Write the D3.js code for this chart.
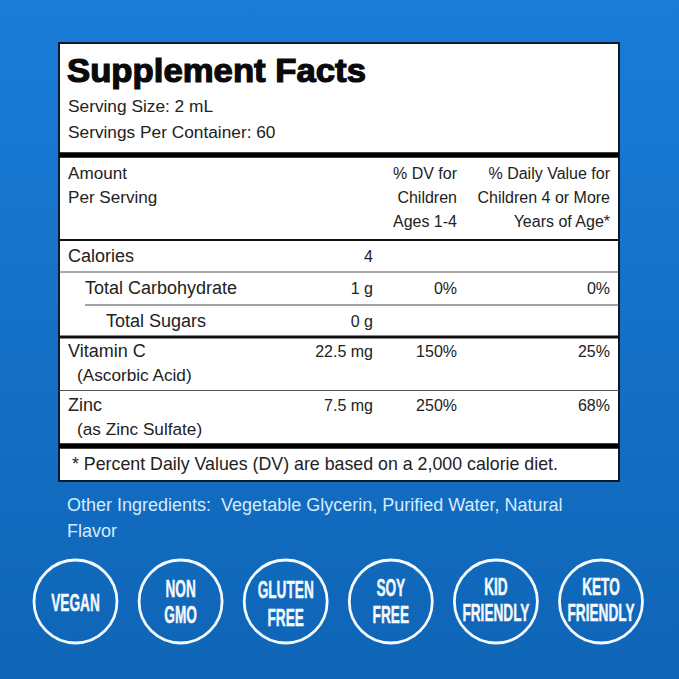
<!DOCTYPE html>
<html>
<head>
<meta charset="utf-8">
<script src="https://cdn.jsdelivr.net/npm/d3@7"></script>
<style>
  html, body { margin: 0; padding: 0; background: #1270c6; }
  svg { display: block; }
  text { font-family: "Liberation Sans", sans-serif; white-space: pre; }
</style>
</head>
<body>
<div id="chart"></div>
<script>
const servingLines = ['Serving Size: 2 mL', 'Servings Per Container: 60'];
const amountHeader = ['Amount', 'Per Serving'];
const childHeader = ['% DV for', 'Children', 'Ages 1-4'];
const dailyHeader = ['% Daily Value for', 'Children 4 or More', 'Years of Age*'];

const nutrients = ['Calories', 'Total Carbohydrate', 'Total Sugars', 'Vitamin C', 'Zinc'];
const subLabels = ['', '', '', '(Ascorbic Acid)', '(as Zinc Sulfate)'];
const amounts = ['4', '1 g', '0 g', '22.5 mg', '7.5 mg'];
const childDV = ['', '0%', '', '150%', '250%'];
const dailyDV = ['', '0%', '', '25%', '68%'];
const indents = [0, 1, 2, 0, 0];

const footnote = '* Percent Daily Values (DV) are based on a 2,000 calorie diet.';
const ingredients = ['Other Ingredients:  Vegetable Glycerin, Purified Water, Natural', 'Flavor'];
const badges = [['VEGAN'], ['NON', 'GMO'], ['GLUTEN', 'FREE'], ['SOY', 'FREE'], ['KID', 'FRIENDLY'], ['KETO', 'FRIENDLY']];

// layout
const size = 679;
const box = { x: 59, y: 43, w: 560, h: 438 };
const amountRight = 373;
const childRight = 457;
const dailyRight = 610;
const labelLeft = 68;
const rowTextY = [262, 294, 327, 357, 411];
const subTextY = [0, 0, 0, 381, 435];
const badgeBaselines = [[9], [-5, 21.5], [-3.5, 24.5], [-5.5, 21], [-6.5, 19], [-6.5, 19]];
const rules = [
  { y: 155, w: 5.5, x1: 59, c: '#000' },
  { y: 240, w: 2, x1: 59, c: '#111' },
  { y: 272, w: 1, x1: 59, c: '#555' },
  { y: 305, w: 1, x1: 85, c: '#444' },
  { y: 337, w: 3, x1: 59, c: '#111' },
  { y: 390.5, w: 1, x1: 59, c: '#555' },
  { y: 446, w: 5.5, x1: 59, c: '#000' },
];

const svg = d3.select('#chart').append('svg').attr('width', size).attr('height', size);

// Background
const grad = svg.append('defs').append('linearGradient')
  .attr('id', 'bg').attr('x1', 0).attr('y1', 0).attr('x2', 0).attr('y2', 1);
grad.append('stop').attr('offset', '0%').attr('stop-color', '#1a7cd8');
grad.append('stop').attr('offset', '100%').attr('stop-color', '#0f65b6');
svg.append('rect').attr('width', size).attr('height', size).attr('fill', 'url(#bg)');

// Panel
svg.append('rect')
  .attr('x', box.x).attr('y', box.y)
  .attr('width', box.w).attr('height', box.h)
  .attr('fill', '#fff').attr('stroke', '#0b1a2b').attr('stroke-width', 2);

svg.selectAll('line.rule')
  .data(rules)
  .enter()
  .append('line')
  .attr('class', 'rule')
  .attr('x1', (d) => d.x1)
  .attr('x2', box.x + box.w)
  .attr('y1', (d) => d.y)
  .attr('y2', (d) => d.y)
  .attr('stroke', (d) => d.c)
  .attr('stroke-width', (d) => d.w);

const ink = '#222';
const addText = (x, y, str, anchor, fs, fill) =>
  svg.append('text')
    .attr('x', x).attr('y', y)
    .attr('text-anchor', anchor || 'start')
    .attr('font-size', fs || 16)
    .attr('fill', fill || ink)
    .text(str);

// Title
addText(67, 82, 'Supplement Facts', 'start', 33, '#0a0a0a')
  .attr('font-weight', 700)
  .attr('stroke', '#0a0a0a')
  .attr('stroke-width', 1.2)
  .attr('textLength', 299)
  .attr('lengthAdjust', 'spacingAndGlyphs');

servingLines.forEach((s, i) => addText(68, 112 + i * 26, s, 'start', 17.3));
amountHeader.forEach((s, i) => addText(68, 179 + i * 24, s, 'start', 17.1));
childHeader.forEach((s, i) => addText(childRight, 179 + i * 24, s, 'end', 16));
dailyHeader.forEach((s, i) => addText(dailyRight, 179 + i * 24, s, 'end', 16));

// Rows
nutrients.forEach((name, i) => {
  const y = rowTextY[i];
  addText(labelLeft + [0, 17, 38][indents[i]], y, name, 'start', 18);
  if (subLabels[i]) addText(77, subTextY[i], subLabels[i], 'start', 17.2);
  addText(amountRight, y, amounts[i], 'end', 16);
  if (childDV[i]) addText(childRight, y, childDV[i], 'end', 16);
  if (dailyDV[i]) addText(dailyRight, y, dailyDV[i], 'end', 16);
});

addText(72, 470, footnote, 'start', 17.8);

// Ingredients
ingredients.forEach((s, i) => addText(67, 511 + i * 26, s, 'start', 18, '#d5ecff'));

// Badges
const badgeX = d3.scalePoint().domain(d3.range(badges.length)).range([75.5, 601]);
const badge = svg.selectAll('g.badge')
  .data(badges)
  .enter()
  .append('g')
  .attr('class', 'badge')
  .attr('transform', (d, i) => `translate(${badgeX(i)}, 601.5)`);

badge.append('circle')
  .attr('r', 41.5)
  .attr('fill', 'none')
  .attr('stroke', '#f4f9fd')
  .attr('stroke-width', 2.8);

badge.each(function (lines, b) {
  d3.select(this).selectAll('text')
    .data(lines)
    .enter()
    .append('text')
    .attr('transform', (d, i) => `translate(0, ${badgeBaselines[b][i]}) scale(0.65, 1.16)`)
    .attr('text-anchor', 'middle')
    .style('font-family', '"Liberation Sans Narrow", "Liberation Sans", sans-serif')
    .attr('font-weight', 700)
    .attr('font-size', 21)
    .attr('fill', '#f4f9fd')
    .attr('stroke', '#f4f9fd')
    .attr('stroke-width', 0.4)
    .text((d) => d);
});
</script>
</body>
</html>
